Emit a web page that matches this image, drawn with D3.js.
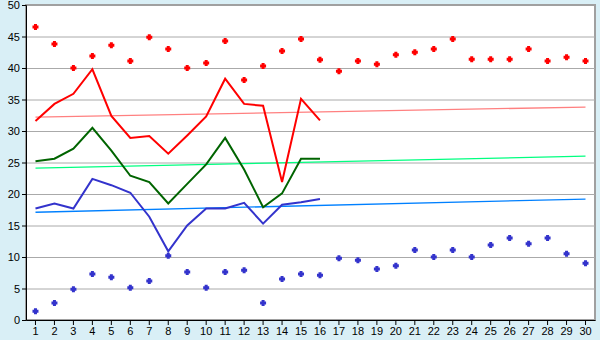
<!DOCTYPE html>
<html>
<head>
<meta charset="utf-8">
<script src="https://cdn.jsdelivr.net/npm/d3@7"></script>
<style>
  body { margin: 0; background: #d9eff6; }
  svg { display: block; font-family: "DejaVu Sans", Verdana, sans-serif; }
  .grid line { stroke: #aaaaaa; }
</style>
</head>
<body>
<svg id="svg" width="600" height="340"></svg>
<script>
const days = d3.range(1, 31);

// daily maximum / minimum markers
const maxVals = [46.5, 43.8, 40, 41.9, 43.6, 41.1, 44.9, 43, 40, 40.8,
  44.3, 38.1, 40.3, 42.7, 44.6, 41.3, 39.5, 41.1, 40.6, 42.1,
  42.5, 43, 44.6, 41.4, 41.4, 41.4, 43, 41.1, 41.7, 41.1];
const minVals = [1.4, 2.7, 4.9, 7.3, 6.8, 5.1, 6.2, 10.2, 7.6, 5.1,
  7.6, 7.9, 2.7, 6.5, 7.3, 7.1, 9.8, 9.5, 8.1, 8.6,
  11.1, 10, 11.1, 10, 11.9, 13, 12.1, 13, 10.5, 9];

// lines, days 1-16
const redLine = [31.6, 34.3, 35.9, 39.8, 32.4, 28.9, 29.2, 26.4, 29.3, 32.3,
  38.3, 34.3, 34.0, 21.9, 35.1, 31.7];
const greenLine = [25.2, 25.6, 27.2, 30.5, 26.9, 22.9, 21.9, 18.5, 21.6, 24.7,
  28.9, 23.9, 17.9, 20.1, 25.6, 25.6];
const blueLine = [17.7, 18.5, 17.7, 22.4, 21.4, 20.2, 16.4, 10.9, 15.0, 17.7,
  17.7, 18.6, 15.3, 18.3, 18.7, 19.2];

// trend lines: [value at day 1, value at day 30]
const redTrend = [32.2, 33.8];
const greenTrend = [24.1, 26.0];
const blueTrend = [17.1, 19.2];

const yTicks = d3.range(0, 51, 5);

const svg = d3.select("#svg");
const plotLeft = 26, plotRight = 595, plotTop = 5, plotBottom = 320;

const x = d3.scaleBand().domain(days).range([plotLeft, plotRight]);
const xc = d => x(d) + x.bandwidth() / 2;
const y = d3.scaleLinear().domain([0, 50]).range([plotBottom, plotTop]);

svg.append("rect")
  .attr("x", plotLeft).attr("y", plotTop)
  .attr("width", plotRight - plotLeft).attr("height", plotBottom - plotTop)
  .attr("fill", "#fff")
  .attr("stroke", "#a0a0a0").attr("stroke-width", 2);

svg.append("g")
  .attr("class", "grid")
  .attr("transform", `translate(${plotLeft},0)`)
  .call(d3.axisRight(y).tickValues(yTicks.slice(1, -1)).tickSize(plotRight - plotLeft).tickFormat(""))
  .call(g => g.select(".domain").remove());

const line = d3.line().x((d, i) => xc(days[i])).y(d => y(d));

const trends = [[redTrend, "#ff8080"], [greenTrend, "#00ff80"], [blueTrend, "#0080ff"]];
trends.forEach(([t, c]) => {
  svg.append("line")
    .attr("x1", xc(days[0])).attr("y1", y(t[0]))
    .attr("x2", xc(days[29])).attr("y2", y(t[1]))
    .attr("stroke", c).attr("stroke-width", 1.3);
});

const series = [[redLine, "#ff0000"], [greenLine, "#006400"], [blueLine, "#3333cc"]];
series.forEach(([s, c]) => {
  svg.append("path")
    .attr("d", line(s))
    .attr("fill", "none")
    .attr("stroke", c)
    .attr("stroke-width", 2);
});

// chunky plus marker, 6px across with 3px arms
const chunkyCross = {
  draw(ctx) {
    const a = 1.5, b = 3;
    ctx.moveTo(-a, -b); ctx.lineTo(a, -b); ctx.lineTo(a, -a); ctx.lineTo(b, -a);
    ctx.lineTo(b, a); ctx.lineTo(a, a); ctx.lineTo(a, b); ctx.lineTo(-a, b);
    ctx.lineTo(-a, a); ctx.lineTo(-b, a); ctx.lineTo(-b, -a); ctx.lineTo(-a, -a);
    ctx.closePath();
  }
};
const marker = d3.symbol(chunkyCross);
[[maxVals, "#ff0000"], [minVals, "#3333cc"]].forEach(([v, c]) => {
  svg.append("g")
    .selectAll("path")
    .data(v)
    .join("path")
    .attr("d", marker)
    .attr("transform", (d, i) => `translate(${xc(days[i])},${y(d)})`)
    .attr("fill", c);
});

const yAxis = svg.append("g")
  .attr("transform", `translate(${plotLeft},0)`)
  .call(d3.axisLeft(y).tickValues(yTicks).tickSize(4).tickPadding(2));
yAxis.selectAll("text").attr("font-size", 11).attr("fill", "#000").attr("font-family", null);
yAxis.select(".domain").attr("stroke", "#000");

const xAxis = svg.append("g")
  .attr("transform", `translate(0,${plotBottom})`)
  .call(d3.axisBottom(x).tickSize(5).tickPadding(2).tickSizeOuter(0));
xAxis.selectAll("text").attr("font-size", 11).attr("fill", "#000").attr("font-family", null);
xAxis.select(".domain").attr("stroke", "#000");
</script>
</body>
</html>
